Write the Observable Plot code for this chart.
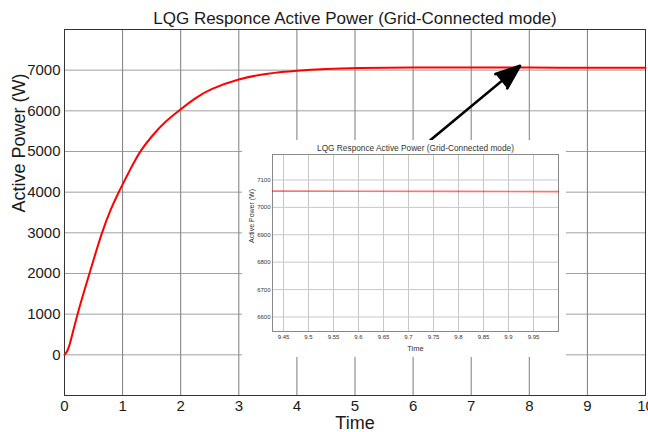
<!DOCTYPE html>
<html><head><meta charset="utf-8">
<script src="https://cdn.jsdelivr.net/npm/d3@7"></script>
<script src="https://cdn.jsdelivr.net/npm/@observablehq/plot@0.6"></script>
<style>
body{margin:0;background:#fff;font-family:"Liberation Sans",Arial,sans-serif;}
#wrap{position:relative;width:648px;height:432px;overflow:hidden;}
#inset{position:absolute;left:242px;top:140px;}
</style></head><body><div id="wrap"><div id="main"></div><div id="inset"></div></div>
<script>
// ---- main chart data ----
const time  = [0, 0.04, 0.08, 0.126, 0.223, 0.325, 0.429, 0.535, 0.64, 0.79, 0.943, 1.0, 1.126, 1.2, 1.303, 1.5, 1.75, 1.966, 2.25, 2.5, 3, 3.5, 4, 4.5, 5, 6, 7, 8, 9, 10];
const power = [0, 60, 200, 460, 1000, 1500, 2000, 2500, 2990, 3570, 4030, 4190, 4545, 4740, 5010, 5380, 5760, 6000, 6320, 6530, 6790, 6925, 6990, 7030, 7052, 7068, 7066, 7063, 7061, 7058];
const xTicks = [0, 1, 2, 3, 4, 5, 6, 7, 8, 9, 10];
const yTicks = [0, 1000, 2000, 3000, 4000, 5000, 6000, 7000];
const mainTitle = "LQG Responce Active Power (Grid-Connected mode)";
const xLabel = "Time";
const yLabel = "Active Power (W)";

// ---- inset (zoom) data ----
const insetTime  = [9.428, 9.6, 9.8, 10];
const insetPower = [7059.5, 7059, 7058.3, 7057.6];
const insetXTicks = [9.45, 9.5, 9.55, 9.6, 9.65, 9.7, 9.75, 9.8, 9.85, 9.9, 9.95];
const insetYTicks = [6600, 6700, 6800, 6900, 7000, 7100];

// ---- annotation arrow (data coordinates of main chart) ----
const arrowFrom = {t: 6.30, p: 5283};
const arrowTo   = {t: 7.84, p: 7108};

const font = "Liberation Sans, Arial, sans-serif";
const mainData = time.map((t, i) => ({t, p: power[i]}));
const insetData = insetTime.map((t, i) => ({t, p: insetPower[i]}));

const main = Plot.plot({
  width: 648, height: 432,
  marginLeft: 64, marginRight: 3, marginTop: 29, marginBottom: 37,
  style: {fontFamily: font, background: "white", color: "#1a1a1a"},
  x: {domain: [0, 10]},
  y: {domain: [-1000, 8000]},
  marks: [
    Plot.gridX(xTicks, {stroke: "#666", strokeOpacity: 0.85}),
    Plot.gridY(yTicks, {stroke: "#888", strokeOpacity: 0.8}),
    Plot.frame({stroke: "#333"}),
    Plot.axisX(xTicks, {tickSize: 0, tickPadding: 5, fontSize: 15, label: null, tickFormat: d => `${d}`}),
    Plot.axisY(yTicks, {tickSize: 0, tickPadding: 4, fontSize: 15, label: null, tickFormat: d => `${d}`}),
    Plot.line(mainData, {x: "t", y: "p", stroke: "red", strokeWidth: 2, curve: "basis"}),
    Plot.text([mainTitle], {text: d => d, frameAnchor: "top", lineAnchor: "middle", dy: -11, fontSize: 17}),
    Plot.text([xLabel], {text: d => d, frameAnchor: "bottom", lineAnchor: "middle", dy: 28, fontSize: 18}),
    Plot.text([yLabel], {text: d => d, frameAnchor: "left", lineAnchor: "middle", dx: -45, rotate: -90, fontSize: 18}),
    Plot.arrow([{a: arrowFrom, b: arrowTo}], {
      x1: d => d.a.t, y1: d => d.a.p, x2: d => d.b.t, y2: d => d.b.p,
      stroke: "black", fill: "black", strokeWidth: 2.6, headLength: 15, headAngle: 42
    })
  ]
});
document.getElementById("main").append(main);

const inset = Plot.plot({
  width: 324, height: 217,
  marginLeft: 30, marginRight: 8, marginTop: 14, marginBottom: 26,
  style: {fontFamily: font, background: "white", color: "#333"},
  x: {domain: [9.428, 10]},
  y: {domain: [6547, 7193]},
  marks: [
    Plot.gridX(insetXTicks, {stroke: "#c8c8c8", strokeOpacity: 1}),
    Plot.gridY(insetYTicks, {stroke: "#c8c8c8", strokeOpacity: 1}),
    Plot.frame({stroke: "#888"}),
    Plot.axisX(insetXTicks, {tickSize: 0, tickPadding: 3, fontSize: 6, label: null, tickFormat: d => `${d}`}),
    Plot.axisY(insetYTicks, {tickSize: 0, tickPadding: 2, fontSize: 6, label: null, tickFormat: d => `${d}`}),
    Plot.line(insetData, {x: "t", y: "p", stroke: "red", strokeOpacity: 0.55, strokeWidth: 1.6}),
    Plot.text([mainTitle], {text: d => d, frameAnchor: "top", lineAnchor: "middle", dy: -5.7, fontSize: 8.3}),
    Plot.text([xLabel], {text: d => d, frameAnchor: "bottom", lineAnchor: "middle", dy: 17.5, fontSize: 7.5}),
    Plot.text([yLabel], {text: d => d, frameAnchor: "left", lineAnchor: "middle", dx: -21, rotate: -90, fontSize: 7})
  ]
});
document.getElementById("inset").append(inset);
</script>
</body></html>
